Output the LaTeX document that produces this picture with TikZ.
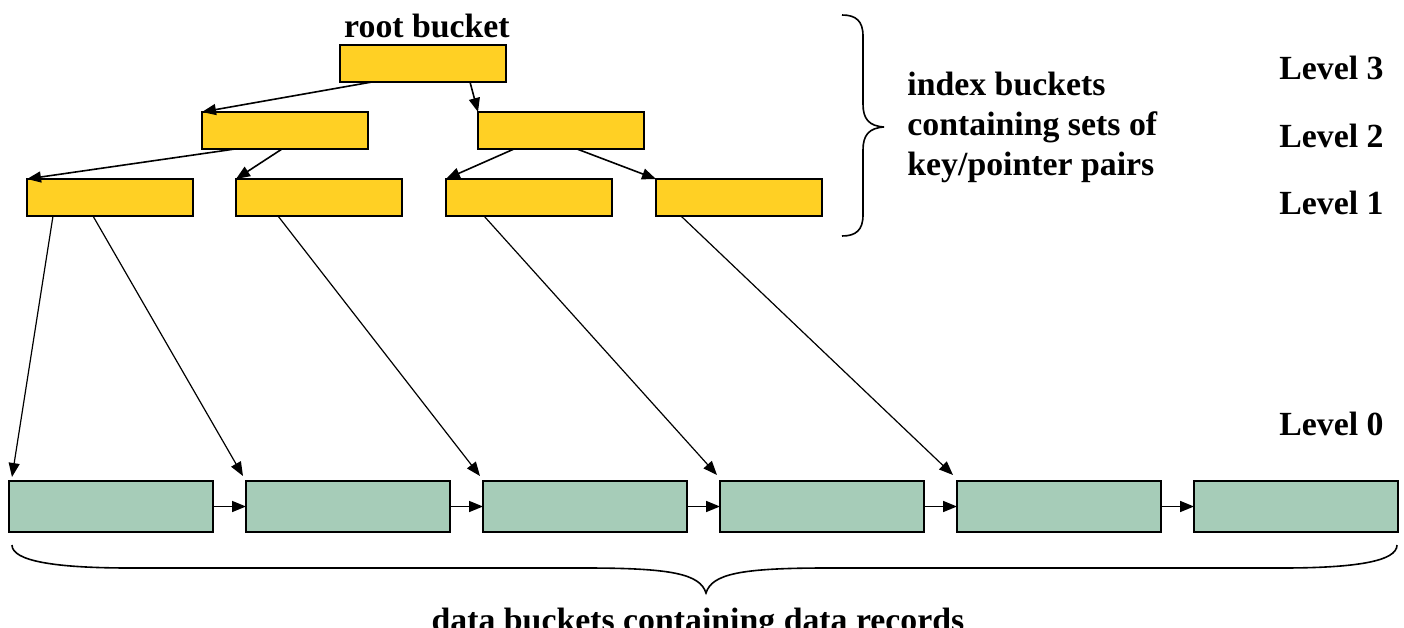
\documentclass[tikz,border=0pt]{standalone}
\usepackage{fontspec}
\setmainfont{Liberation Serif}
\usetikzlibrary{arrows.meta}
\definecolor{idxfill}{HTML}{FFD024}
\definecolor{datafill}{HTML}{A6CCB8}
\begin{document}
\begin{tikzpicture}[x=0.5pt,y=-0.5pt,
  ibox/.style={draw=black,line width=1pt,fill=idxfill,rectangle,inner sep=0pt,outer sep=0pt,
    minimum width=83pt,minimum height=18.5pt},
  dbox/.style={draw=black,line width=1pt,fill=datafill,rectangle,inner sep=0pt,outer sep=0pt,
    minimum width=102pt,minimum height=25.5pt},
  ptr/.style={line width=0.8pt,-{Triangle[length=7pt,width=5.5pt]}},
  dptr/.style={line width=0.6pt,-{Triangle[length=7pt,width=5.5pt]}},
  lbl/.style={inner sep=0pt,font=\fontsize{16.9}{20}\selectfont\bfseries},
  brace/.style={line width=0.8pt}]
\useasboundingbox (0,0) rectangle (1404,627);

% index buckets
\node[ibox] (root) at (423,63.5) {};
\node[ibox] (l2a) at (285,130.5) {};
\node[ibox] (l2b) at (561,130.5) {};
\node[ibox] (l1a) at (110,197.5) {};
\node[ibox] (l1b) at (319,197.5) {};
\node[ibox] (l1c) at (529,197.5) {};
\node[ibox] (l1d) at (739,197.5) {};

% data buckets
\node[dbox] (d1) at (111,506.5) {};
\node[dbox] (d2) at (348,506.5) {};
\node[dbox] (d3) at (585,506.5) {};
\node[dbox] (d4) at (822,506.5) {};
\node[dbox] (d5) at (1059,506.5) {};
\node[dbox] (d6) at (1296,506.5) {};

% tree pointers
\draw[ptr] ([xshift=16pt]root.south west) -- (l2a.north west);
\draw[ptr] ([xshift=65pt]root.south west) -- (l2b.north west);
\draw[ptr] ([xshift=16.5pt]l2a.south west) -- (l1a.north west);
\draw[ptr] ([xshift=40pt]l2a.south west) -- (l1b.north west);
\draw[ptr] ([xshift=18pt]l2b.south west) -- (l1c.north west);
\draw[ptr] ([xshift=49.5pt]l2b.south west) -- (l1d.north west);

% pointers to data buckets
\draw[dptr] ([xshift=13pt]l1a.south west) -- ([xshift=1.5pt,yshift=2pt]d1.north west);
\draw[dptr] ([xshift=33pt]l1a.south west) -- ([xshift=-1.5pt,yshift=2.5pt]d2.north west);
\draw[dptr] ([xshift=21pt]l1b.south west) -- ([xshift=-1.5pt,yshift=2.5pt]d3.north west);
\draw[dptr] ([xshift=19pt]l1c.south west) -- ([xshift=-1.5pt,yshift=3pt]d4.north west);
\draw[dptr] ([xshift=12.5pt]l1d.south west) -- ([xshift=-2pt,yshift=3pt]d5.north west);

% chain of data buckets
\draw[ptr] (d1.east) -- (d2.west);
\draw[ptr] (d2.east) -- (d3.west);
\draw[ptr] (d3.east) -- (d4.west);
\draw[ptr] (d4.east) -- (d5.west);
\draw[ptr] (d5.east) -- (d6.west);

% braces
\draw[brace] (842,15) .. controls (856,15) and (863,21) .. (863,36) -- (863,104)
  .. controls (863,119) and (869,126) .. (884,127)
  .. controls (869,128) and (863,135) .. (863,150) -- (863,215)
  .. controls (863,230) and (856,236) .. (842,236);
\draw[brace] (12,545) .. controls (12,561) and (55,568) .. (130,568) -- (585,568)
  .. controls (672,568) and (700,574) .. (706,593)
  .. controls (712,574) and (740,568) .. (827,568) -- (1282,568)
  .. controls (1357,568) and (1397,561) .. (1397,545);

% labels
\node[lbl,anchor=base] (rootlbl) at (427,37) {root bucket};
\node[lbl,anchor=base west] (idx1) at (907,95) {index buckets};
\node[lbl,anchor=base west] (idx2) at (907,135) {containing sets of};
\node[lbl,anchor=base west] (idx3) at (907,175) {key/pointer pairs};
\node[lbl,anchor=base west] (lv3) at (1279,79) {Level 3};
\node[lbl,anchor=base west] (lv2) at (1279,147) {Level 2};
\node[lbl,anchor=base west] (lv1) at (1279,214) {Level 1};
\node[lbl,anchor=base west] (lv0) at (1279,435) {Level 0};
\node[lbl,anchor=base] (datalbl) at (698,631) {data buckets containing data records};
\end{tikzpicture}
\end{document}
